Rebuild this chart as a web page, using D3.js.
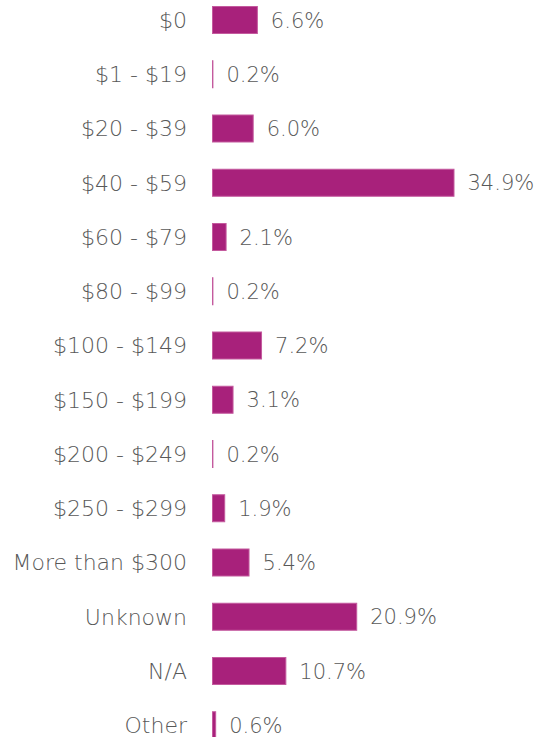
<!DOCTYPE html>
<html>
<head>
<meta charset="utf-8">
<script src="https://cdn.jsdelivr.net/npm/d3@7"></script>
<style>
  body { margin: 0; background: #fff; }
  text { font-family: "DejaVu Sans", sans-serif; font-weight: 200; fill: #585858; }
</style>
</head>
<body>
<div id="chart"></div>
<script>
const width = 548;
const height = 737;

const categories = ['$0', '$1 - $19', '$20 - $39', '$40 - $59', '$60 - $79', '$80 - $99',
  '$100 - $149', '$150 - $199', '$200 - $249', '$250 - $299', 'More than $300',
  'Unknown', 'N/A', 'Other'];
const values = [6.6, 0.2, 6.0, 34.9, 2.1, 0.2, 7.2, 3.1, 0.2, 1.9, 5.4, 20.9, 10.7, 0.6];

const data = categories.map((c, i) => ({cat: c, val: values[i]}));

const svg = d3.select('#chart')
  .append('svg')
    .attr('width', width)
    .attr('height', height);

const left = 212;

const x = d3.scaleLinear()
  .domain([0, 34.9])
  .range([0, 242.5]);

const y = d3.scaleBand()
  .domain(categories)
  .range([6, 739.25])
  .paddingInner(26.25 / 54.25)
  .paddingOuter(0);

const rows = svg.selectAll('.row')
  .data(data)
  .enter()
  .append('g')
    .attr('class', 'row')
    .attr('transform', d => `translate(0,${y(d.cat)})`);

rows.append('rect')
  .attr('x', left + 0.5)
  .attr('y', 0.5)
  .attr('width', d => Math.max(x(d.val) - 1, 0.4))
  .attr('height', y.bandwidth() - 1)
  .attr('fill', '#a8217b')
  .attr('stroke', '#c45a9e')
  .attr('stroke-width', 1);

// category labels
rows.append('text')
  .attr('x', 187)
  .attr('y', y.bandwidth() / 2)
  .attr('dy', '0.36em')
  .attr('text-anchor', 'end')
  .style('font-size', '22px')
  .text(d => d.cat);

// value labels
rows.append('text')
  .attr('x', d => left + x(d.val) + 13)
  .attr('y', y.bandwidth() / 2)
  .attr('dy', '0.36em')
  .style('font-size', '21px')
  .text(d => d.val.toFixed(1) + '%');
</script>
</body>
</html>
